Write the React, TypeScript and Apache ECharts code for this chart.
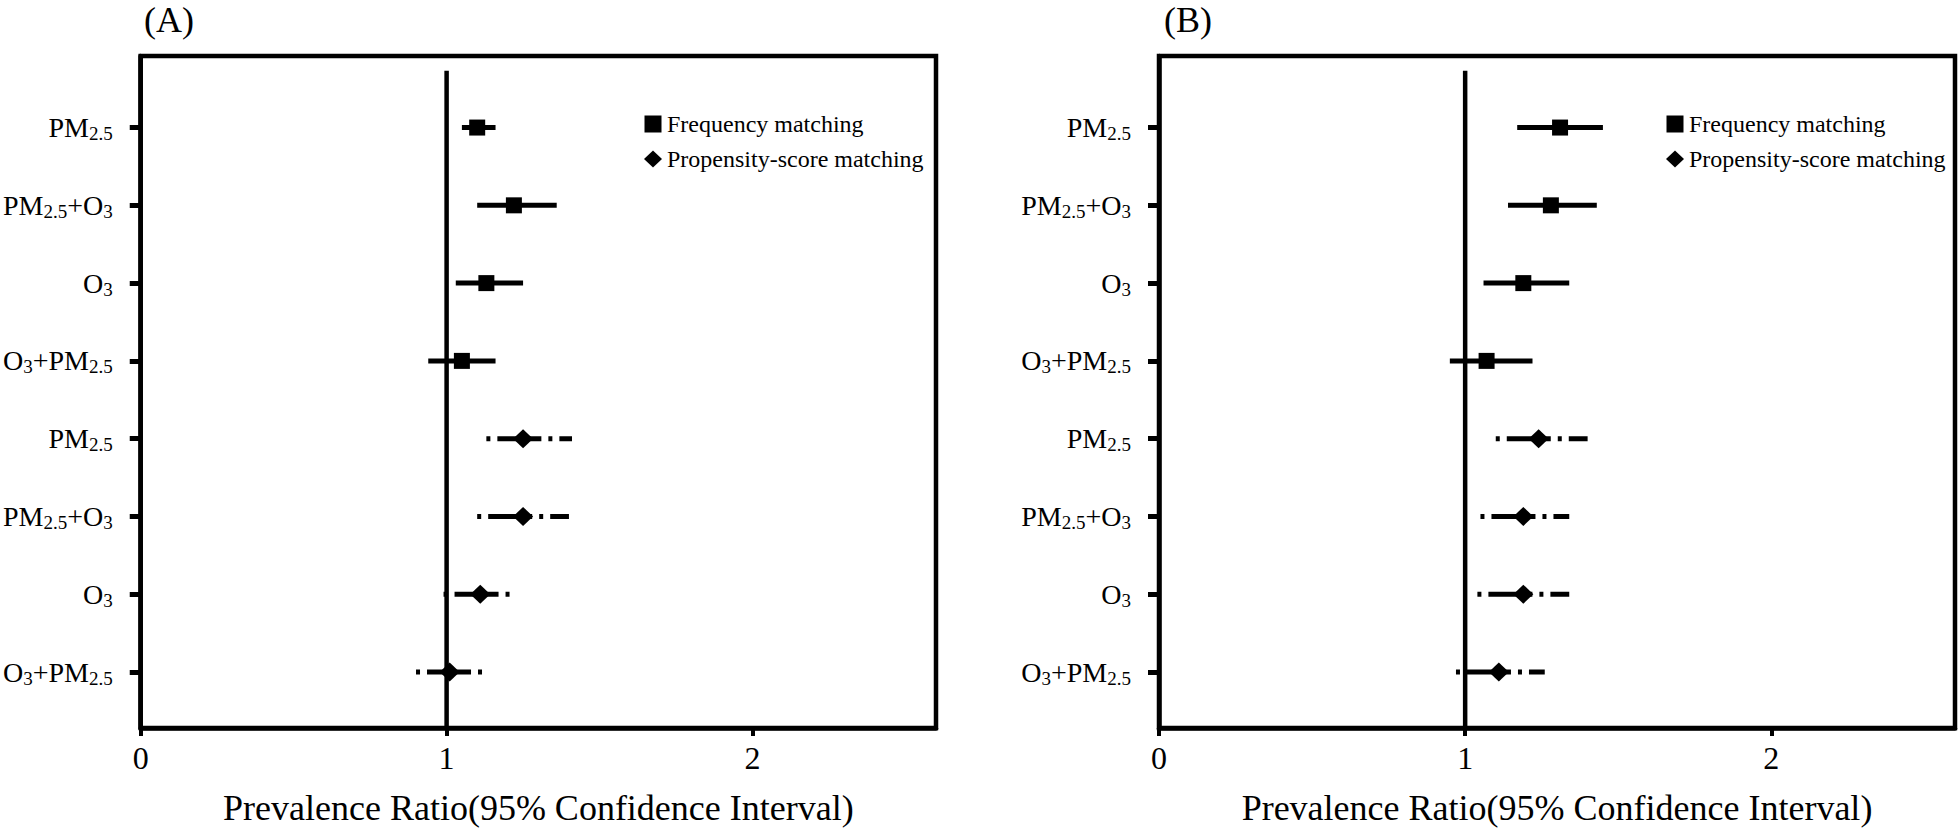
import React, { useEffect, useRef } from "react";
import * as echarts from "echarts";

const FONT = "'Times New Roman', 'Liberation Serif', serif";

// Row labels, top to bottom
const CATEGORIES = ["PM2.5", "PM2.5+O3", "O3", "O3+PM2.5", "PM2.5", "PM2.5+O3", "O3", "O3+PM2.5"];
// Vertical positions of rows (top = 8)
const FREQ_ROWS = [8, 7, 6, 5];
const PS_ROWS = [4, 3, 2, 1];
const ROW_POS = [8, 7, 6, 5, 4, 3, 2, 1];
const Y_MIN = 0.28;
const Y_MAX = 8.92;

const X_TICKS = [0, 1, 2];
const X_MIN = 0;
const X_MAX = 2.6;
const AXIS_TITLE = "Prevalence Ratio(95% Confidence Interval)";
const PANEL_LABELS = ["(A)", "(B)"];
const LEGEND_NAMES = ["Frequency matching", "Propensity-score matching"];

// Reference line at PR = 1
const REF_X = 1;
const REF_Y = [0.28, 8.73];

// Panel A
const A_FREQ_EST = [1.10, 1.22, 1.13, 1.05];
const A_FREQ_LO = [1.05, 1.10, 1.03, 0.94];
const A_FREQ_HI = [1.16, 1.36, 1.25, 1.16];
const A_PS_EST = [1.25, 1.25, 1.11, 1.01];
const A_PS_LO = [1.13, 1.10, 0.99, 0.90];
const A_PS_HI = [1.41, 1.40, 1.22, 1.13];

// Panel B
const B_FREQ_EST = [1.31, 1.28, 1.19, 1.07];
const B_FREQ_LO = [1.17, 1.14, 1.06, 0.95];
const B_FREQ_HI = [1.45, 1.43, 1.34, 1.22];
const B_PS_EST = [1.24, 1.19, 1.19, 1.11];
const B_PS_LO = [1.10, 1.05, 1.04, 0.97];
const B_PS_HI = [1.40, 1.34, 1.34, 1.26];

const PANELS = [
  { freq: [A_FREQ_EST, A_FREQ_LO, A_FREQ_HI], ps: [A_PS_EST, A_PS_LO, A_PS_HI] },
  { freq: [B_FREQ_EST, B_FREQ_LO, B_FREQ_HI], ps: [B_PS_EST, B_PS_LO, B_PS_HI] },
];

const GRIDS = [
  { left: 137, top: 56, width: 799, height: 672 },
  { left: 1159, top: 56, width: 796, height: 672 },
];
const PANEL_LABEL_POS = [
  [169, 2],
  [1188, 2],
];
const LEGEND_LEFT = [639, 1661];

const SQUARE_ICON = "path://M0,0L10,0L10,10L0,10Z";

function richLabel(name: string): string {
  let out = "";
  let rest = name;
  while (rest.length) {
    if (rest.startsWith("PM2.5")) {
      out += "{n|PM}{s|2.5}";
      rest = rest.slice(5);
    } else if (rest.startsWith("O3")) {
      out += "{n|O}{s|3}";
      rest = rest.slice(2);
    } else {
      out += "{n|" + rest[0] + "}";
      rest = rest.slice(1);
    }
  }
  return out;
}

function errorBars(panel: number, lo: number[], hi: number[], rows: number[], dashed: boolean) {
  return {
    type: "custom",
    xAxisIndex: panel,
    yAxisIndex: panel,
    silent: true,
    z: 3,
    data: lo.map((l, i) => [l, hi[i], rows[i]]),
    encode: { x: [0, 1], y: 2 },
    renderItem: (params: any, api: any) => {
      const y = api.value(2);
      const p1 = api.coord([api.value(0), y]);
      const p2 = api.coord([api.value(1), y]);
      return {
        type: "line",
        shape: { x1: p1[0], y1: p1[1], x2: p2[0], y2: p2[1] },
        style: {
          stroke: "#000",
          lineWidth: 5,
          lineCap: "butt",
          lineDash: dashed ? [4, 7, 44, 7] : null,
        },
      };
    },
  };
}

export default function App() {
  const ref = useRef<HTMLDivElement>(null);

  useEffect(() => {
    if (!ref.current) return;
    const chart = echarts.init(ref.current, null, { renderer: "svg" });

    const series: any[] = [];
    PANELS.forEach((p, i) => {
      series.push({
        type: "line",
        xAxisIndex: i,
        yAxisIndex: i,
        silent: true,
        symbol: "none",
        data: REF_Y.map((y) => [REF_X, y]),
        lineStyle: { color: "#000", width: 4.5 },
        z: 2,
      });
      series.push(errorBars(i, p.freq[1], p.freq[2], FREQ_ROWS, false));
      series.push(errorBars(i, p.ps[1], p.ps[2], PS_ROWS, true));
      series.push({
        type: "scatter",
        name: LEGEND_NAMES[0],
        xAxisIndex: i,
        yAxisIndex: i,
        symbol: "rect",
        symbolSize: 16,
        itemStyle: { color: "#000", opacity: 1 },
        data: p.freq[0].map((v, k) => [v, FREQ_ROWS[k]]),
        z: 5,
      });
      series.push({
        type: "scatter",
        name: LEGEND_NAMES[1],
        xAxisIndex: i,
        yAxisIndex: i,
        symbol: "diamond",
        symbolSize: [20, 19],
        itemStyle: { color: "#000", opacity: 1 },
        data: p.ps[0].map((v, k) => [v, PS_ROWS[k]]),
        z: 5,
      });
    });

    const option: any = {
      animation: false,
      backgroundColor: "#fff",
      grid: GRIDS.map((g) => ({
        ...g,
        show: true,
        borderColor: "#000",
        borderWidth: 4.5,
        backgroundColor: "transparent",
      })),
      xAxis: GRIDS.map((_, i) => ({
        type: "value",
        gridIndex: i,
        min: X_MIN,
        max: X_MAX,
        axisLine: { show: true, onZero: false, lineStyle: { color: "#000", width: 4.5 } },
        axisTick: {
          show: true,
          length: 8,
          customValues: X_TICKS,
          lineStyle: { color: "#000", width: 4 },
        },
        axisLabel: {
          customValues: X_TICKS,
          fontSize: 32,
          color: "#000",
          fontFamily: FONT,
          margin: 14,
        },
        splitLine: { show: false },
        name: AXIS_TITLE,
        nameLocation: "middle",
        nameGap: 62,
        nameTextStyle: { fontSize: 36, color: "#000", fontFamily: FONT },
      })),
      yAxis: GRIDS.map((_, i) => ({
        type: "value",
        gridIndex: i,
        min: Y_MIN,
        max: Y_MAX,
        axisLine: { show: true, onZero: false, lineStyle: { color: "#000", width: 4.5 } },
        axisTick: {
          show: true,
          length: 11,
          customValues: ROW_POS,
          lineStyle: { color: "#000", width: 5 },
        },
        axisLabel: {
          customValues: ROW_POS,
          margin: 28,
          formatter: (v: number) => {
            const idx = ROW_POS.indexOf(Math.round(v));
            return idx >= 0 ? richLabel(CATEGORIES[idx]) : "";
          },
          rich: {
            n: { fontSize: 28, fontFamily: FONT, color: "#000", lineHeight: 31 },
            s: { fontSize: 19, fontFamily: FONT, color: "#000", lineHeight: 19, verticalAlign: "bottom" },
          },
        },
        splitLine: { show: false },
      })),
      legend: LEGEND_LEFT.map((left) => ({
        left,
        top: 107,
        orient: "vertical",
        itemWidth: 18,
        itemHeight: 17,
        itemGap: 11,
        selectedMode: false,
        textStyle: { fontSize: 24, fontFamily: FONT, color: "#000" },
        data: [
          { name: LEGEND_NAMES[0], icon: SQUARE_ICON, itemStyle: { color: "#000", opacity: 1 } },
          { name: LEGEND_NAMES[1], icon: "diamond", itemStyle: { color: "#000", opacity: 1 } },
        ],
      })),
      graphic: PANEL_LABELS.map((t, i) => ({
        type: "text",
        x: PANEL_LABEL_POS[i][0],
        y: PANEL_LABEL_POS[i][1],
        style: {
          text: t,
          fontSize: 36,
          fontFamily: FONT,
          fill: "#000",
          align: "center",
          verticalAlign: "top",
        },
      })),
      series,
    };

    chart.setOption(option);
    return () => chart.dispose();
  }, []);

  return (
    <div
      ref={ref}
      style={{ position: "fixed", left: 0, top: 0, width: "1958px", height: "834px", background: "#fff" }}
    />
  );
}
